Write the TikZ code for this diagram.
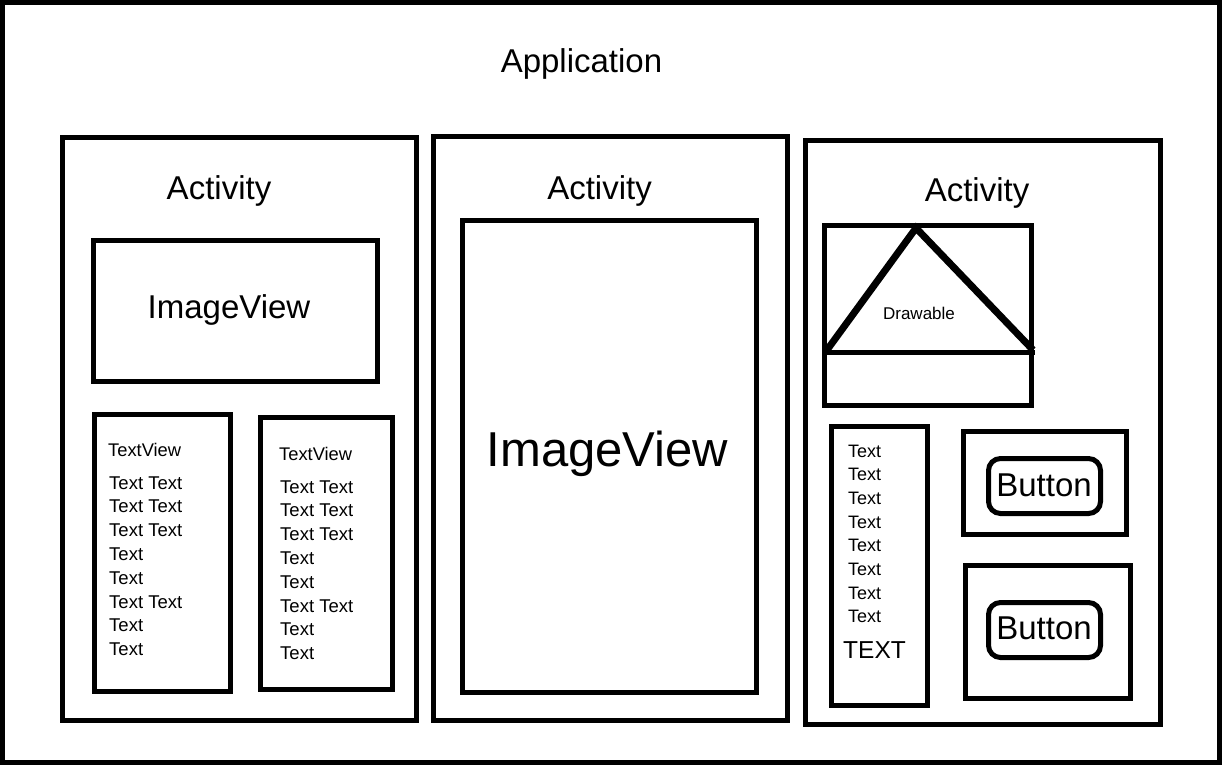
\documentclass[tikz,border=0pt]{standalone}
\usepackage{fontspec}
\setmainfont{Liberation Sans}
\begin{document}
\begin{tikzpicture}[x=1pt,y=-1pt,
  frame/.style={draw=black,line width=5pt},
  btnbox/.style={draw=black,line width=5pt,rounded corners=12pt},
  tri/.style={draw=black,line width=7pt,line join=miter},
  lbl/.style={inner sep=0pt,anchor=base},
  lblw/.style={inner sep=0pt,anchor=base west},
  fsz/.style={font=\fontsize{#1}{#1}\selectfont}]
\useasboundingbox (0,0) rectangle (1222,765);
\fill[white] (0,0) rectangle (1222,765);
% application
\draw[frame] (2.5,2.5) rectangle (1219.5,762.5);
\node[lbl,fsz=33] (app) at (581.5,73) {Application};
% activity 1
\draw[frame] (62.5,137.5) rectangle (416.5,720.5);
\node[lbl,fsz=33] (act1) at (219,199) {Activity};
\draw[frame] (93.5,240.5) rectangle (377.5,381.5);
\node[lbl,fsz=33] (iv1) at (229,318) {ImageView};
\draw[frame] (94.5,414.5) rectangle (230.5,691.5);
\draw[frame] (260.5,417.5) rectangle (392.5,689.5);
\node[lblw,fsz=18.3] (tv1) at (108,456) {TextView};
\node[lblw,fsz=18.3] (tv2) at (279,460) {TextView};
\foreach \t [count=\k from 0] in {Text Text,Text Text,Text Text,Text,Text,Text Text,Text,Text}{
  \node[lblw,fsz=18.5] (ta\k) at (109,489+23.8*\k) {\t};
  \node[lblw,fsz=18.5] (tb\k) at (280,493+23.8*\k) {\t};
}
% activity 2
\draw[frame] (433.5,136.5) rectangle (787.5,720.5);
\node[lbl,fsz=33] (act2) at (599.5,199) {Activity};
\draw[frame] (462.5,220.5) rectangle (756.5,692.5);
\node[lbl,fsz=49] (iv2) at (607.5,466) {ImageView};
% activity 3
\draw[frame] (805.5,140.5) rectangle (1160.5,724.5);
\node[lbl,fsz=33] (act3) at (977,201) {Activity};
\draw[frame] (824.5,225.5) rectangle (1031.5,405.5);
\draw[frame] (824.5,352.5) -- (1035,352.5);
\coordinate (tl) at (827,350);
\coordinate (tt) at (916,228);
\coordinate (tr) at (1033,350);
\draw[tri] (tl) -- (tt) -- (tr);
\node[lbl,fsz=17] (drw) at (919,319) {Drawable};
\draw[frame] (831.5,426.5) rectangle (927.5,705.5);
\foreach \k in {0,...,7}{
  \node[lblw,fsz=18] (tc\k) at (848,457+23.7*\k) {Text};
}
\node[lblw,fsz=24.5] (big) at (843,658) {TEXT};
\draw[frame] (963.5,431.5) rectangle (1126.5,534.5);
\draw[btnbox] (988.5,458.5) rectangle (1100.5,513.5);
\node[lbl,fsz=33] (b1) at (1044,496) {Button};
\draw[frame] (965.5,565.5) rectangle (1130.5,698.5);
\draw[btnbox] (988.5,602.5) rectangle (1100.5,657.5);
\node[lbl,fsz=33] (b2) at (1044,639) {Button};
\end{tikzpicture}
\end{document}
